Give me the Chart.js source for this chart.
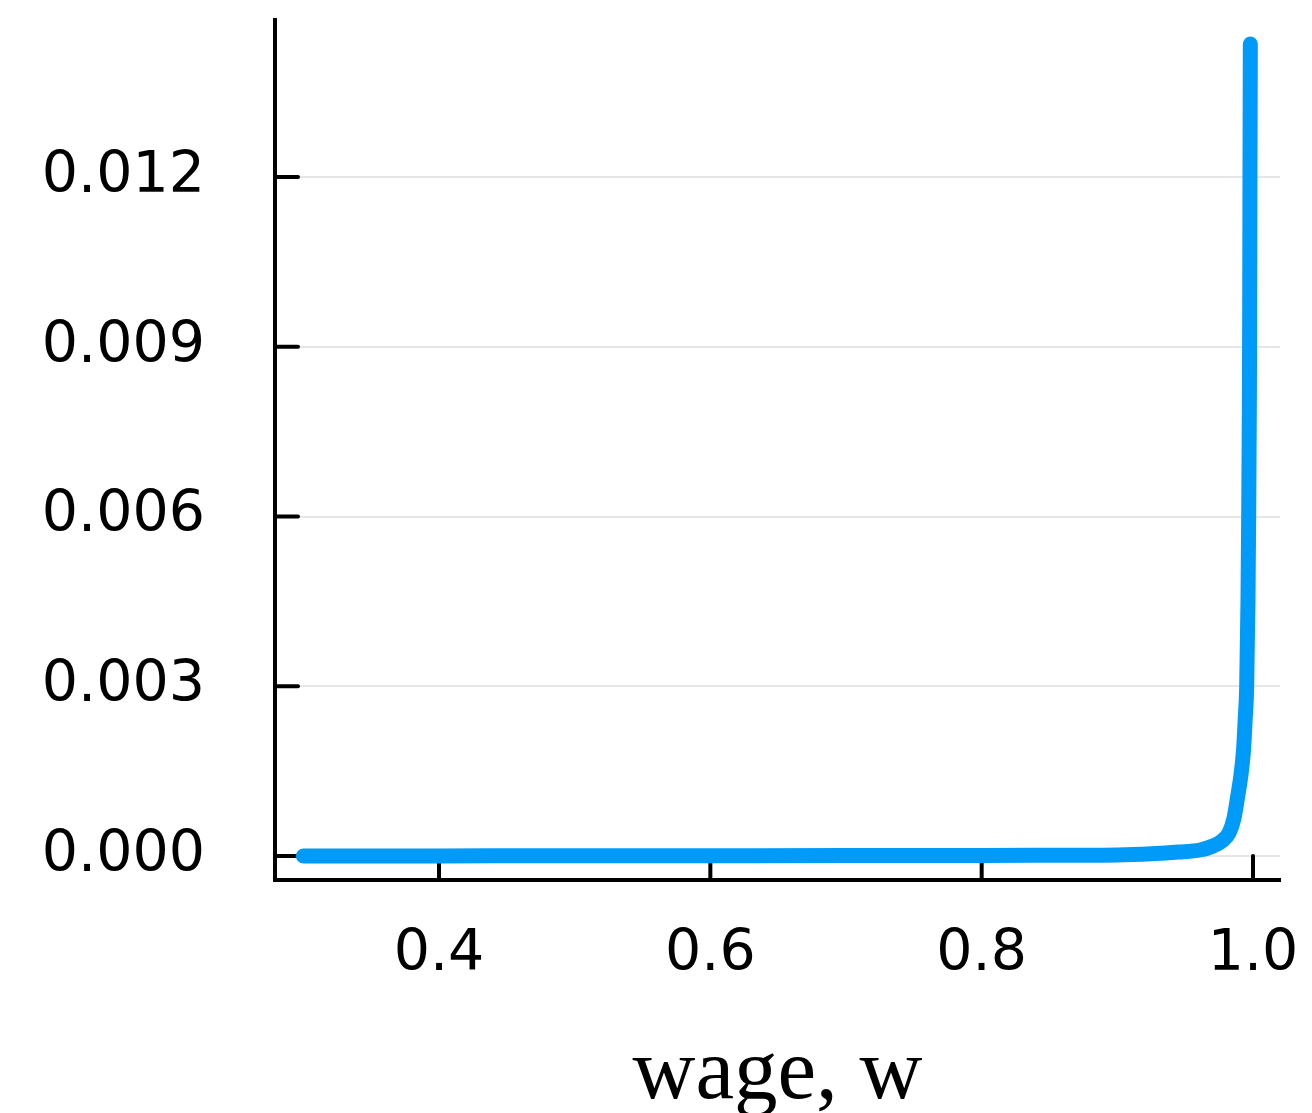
<!DOCTYPE html>
<html>
<head>
<meta charset="utf-8">
<title>wage chart</title>
<script src="https://cdn.jsdelivr.net/npm/chart.js@4.4.1/dist/chart.umd.min.js"></script>
<style>
  html, body { margin: 0; padding: 0; background: #fff; }
  #wrap { width: 1312px; height: 1113px; }
</style>
</head>
<body>
<div id="wrap"><canvas id="wageChart" width="1312" height="1113"></canvas></div>
<script>
// data
const wage = [0.3, 0.4, 0.5, 0.6, 0.7, 0.8, 0.85, 0.9, 0.925, 0.945, 0.9609, 0.9705, 0.9771,
    0.9823, 0.986, 0.9889, 0.9911, 0.993, 0.9942, 0.99534, 0.9963, 0.99681, 0.99733,
    0.99755, 0.99777, 0.99803];
const density = [0, 0.000002, 0.000003, 0.000005, 0.000007, 0.00001, 0.000014, 0.00002,
    0.00004, 0.00007, 0.000106, 0.000177, 0.000265, 0.000407, 0.00067, 0.00108, 0.00143,
    0.00187, 0.0024, 0.003, 0.00451, 0.006, 0.00806, 0.0096, 0.0121, 0.01435];

const xTicks = [0.4, 0.6, 0.8, 1.0];
const xTickLabels = ['0.4', '0.6', '0.8', '1.0'];
const yTicks = [0, 0.003, 0.006, 0.009, 0.012];
const yTickLabels = ['0.000', '0.003', '0.006', '0.009', '0.012'];
const xTitle = 'wage, w';

const points = wage.map((w, i) => ({ x: w, y: density[i] }));

// fixed scale sizes, no automatic label padding
function fixSize(s, size) {
    if (s.isHorizontal()) s.height = size; else s.width = size;
    s.paddingTop = 0;
    s.paddingBottom = 0;
    s.paddingLeft = 0;
    s.paddingRight = 0;
}

// inward tick marks, drawn under the line
const tickMarks = {
    id: 'tickMarks',
    beforeDatasetsDraw(chart) {
        const ctx = chart.ctx;
        const area = chart.chartArea;
        const xs = chart.scales.x, ys = chart.scales.y;
        ctx.save();
        ctx.strokeStyle = '#000';
        ctx.lineWidth = 4;
        ctx.lineCap = 'round';
        xTicks.forEach(v => {
            const px = xs.getPixelForValue(v);
            ctx.beginPath();
            ctx.moveTo(px, area.bottom);
            ctx.lineTo(px, area.bottom - 24);
            ctx.stroke();
        });
        yTicks.forEach(v => {
            const py = ys.getPixelForValue(v);
            ctx.beginPath();
            ctx.moveTo(area.left, py);
            ctx.lineTo(area.left + 23, py);
            ctx.stroke();
        });
        ctx.restore();
    }
};

const ctx = document.getElementById('wageChart').getContext('2d');
const wageChart = new Chart(ctx, {
    type: 'line',
    data: {
        datasets: [{
            data: points,
            borderColor: '#009af9',
            borderWidth: 15,
            borderCapStyle: 'round',
            borderJoinStyle: 'round',
            cubicInterpolationMode: 'monotone',
            pointRadius: 0,
            fill: false
        }]
    },
    options: {
        responsive: false,
        animation: false,
        devicePixelRatio: 1,
        layout: { autoPadding: false, padding: { top: 20, right: 32, left: 0, bottom: 0 } },
        plugins: {
            legend: { display: false },
            tooltip: { enabled: false }
        },
        scales: {
            x: {
                type: 'linear',
                min: 0.2791,
                max: 1.0199,
                afterFit: s => fixSize(s, 233),
                afterBuildTicks: s => { s.ticks = xTicks.map(v => ({ value: v })); },
                grid: { color: 'rgba(0,0,0,0)', drawTicks: false },
                border: { color: '#000', width: 4 },
                ticks: {
                    padding: 41,
                    color: '#000',
                    maxRotation: 0,
                    font: { family: 'DejaVu Sans', size: 57 },
                    callback: (v) => xTickLabels[xTicks.indexOf(v)]
                },
                title: {
                    display: true,
                    text: xTitle,
                    color: '#000',
                    font: { family: 'Liberation Serif', size: 87, lineHeight: 0.85 },
                    padding: { top: 0, bottom: 1 }
                }
            },
            y: {
                min: -0.000424,
                max: 0.014775,
                afterFit: s => fixSize(s, 275),
                afterBuildTicks: s => { s.ticks = yTicks.map(v => ({ value: v })); },
                grid: { color: '#e6e6e6', lineWidth: 2, drawTicks: false },
                border: { color: '#000', width: 4 },
                ticks: {
                    padding: 70,
                    color: '#000',
                    font: { family: 'DejaVu Sans', size: 57 },
                    callback: (v) => yTickLabels[yTicks.indexOf(v)]
                }
            }
        }
    },
    plugins: [tickMarks]
});
</script>
</body>
</html>
